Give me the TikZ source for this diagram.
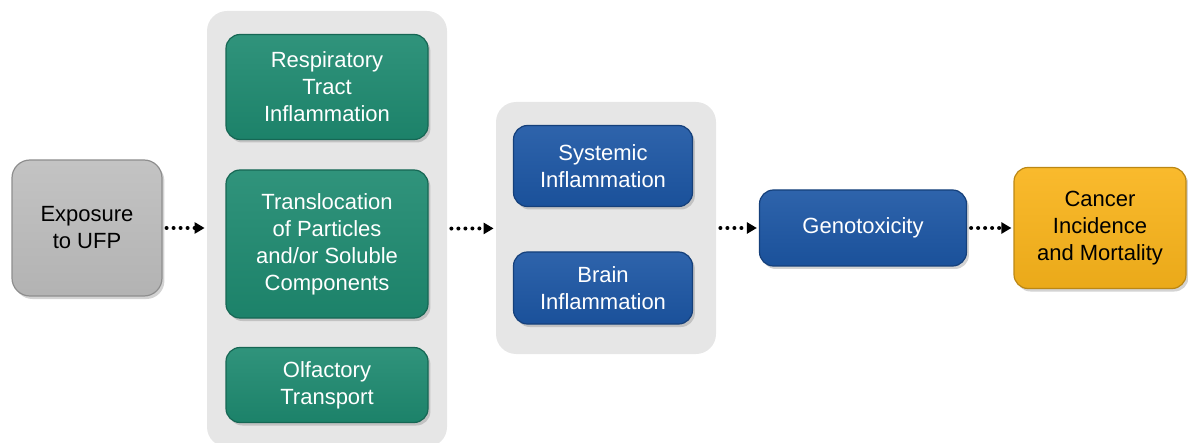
\documentclass[tikz,border=0pt]{standalone}
\usepackage{fontspec}
\setmainfont{Liberation Sans}
\usetikzlibrary{positioning,shadows,arrows.meta}
\definecolor{greenbox}{RGB}{30,138,112}
\definecolor{bluebox}{RGB}{28,86,164}
\definecolor{graybox}{RGB}{190,190,190}
\definecolor{orangebox}{RGB}{249,180,27}
\definecolor{panelgray}{RGB}{230,230,230}
\tikzset{
  stagebox/.style={rounded corners=7pt, draw=#1!75!black, line width=0.6pt,
    top color=#1!92!white, bottom color=#1!94!black, align=center,
    font=\fontsize{11}{13.5}\selectfont, inner sep=2pt,
    drop shadow={opacity=0.35, shadow xshift=1.2pt, shadow yshift=-1.5pt}},
  panel/.style={rounded corners=10pt, fill=panelgray, draw=none, inner sep=0pt},
  flow/.style={line width=2pt, line cap=round, dash pattern=on 0pt off 3.5pt,
    -{Triangle[length=5pt,width=5.5pt]}, shorten <=2pt, shorten >=1pt}
}
\begin{document}
\begin{tikzpicture}[x=0.5pt,y=-0.5pt]
\useasboundingbox (0,0) rectangle (1188,443);
% grey panels behind the grouped stages
\node[panel, minimum width=120pt, minimum height=218pt] (panelA) at (327,229) {};
\node[panel, minimum width=110pt, minimum height=126pt] (panelB) at (606,228) {};
% stages
\node[stagebox=graybox, rounded corners=9pt, minimum width=75pt, minimum height=68pt]
  (expo) at (87,228) {Exposure\\to UFP};
\node[stagebox=greenbox, text=white, minimum width=101pt, minimum height=52.5pt]
  (resp) at (327,87) {Respiratory\\Tract\\Inflammation};
\node[stagebox=greenbox, text=white, minimum width=101pt, minimum height=74pt]
  (transl) at (327,244) {Translocation\\of Particles\\and/or Soluble\\Components};
\node[stagebox=greenbox, text=white, minimum width=101pt, minimum height=37.5pt]
  (olfac) at (327,385) {Olfactory\\Transport};
\node[stagebox=bluebox, text=white, minimum width=89.5pt, minimum height=40.5pt]
  (syst) at (603,166) {Systemic\\Inflammation};
\node[stagebox=bluebox, text=white, minimum width=89.5pt, minimum height=36pt]
  (brain) at (603,288) {Brain\\Inflammation};
\node[stagebox=bluebox, text=white, minimum width=103.5pt, minimum height=38pt]
  (geno) at (863,228) {Genotoxicity};
\node[stagebox=orangebox, minimum width=86pt, minimum height=60.5pt]
  (cancer) at (1100,228) {Cancer\\Incidence\\and Mortality};
% dotted connectors
\draw[flow] (expo) -- (expo -| panelA.west);
\draw[flow] (panelA) -- (panelB);
\draw[flow] (panelB) -- (geno);
\draw[flow] (geno) -- (cancer);
\end{tikzpicture}
\end{document}
